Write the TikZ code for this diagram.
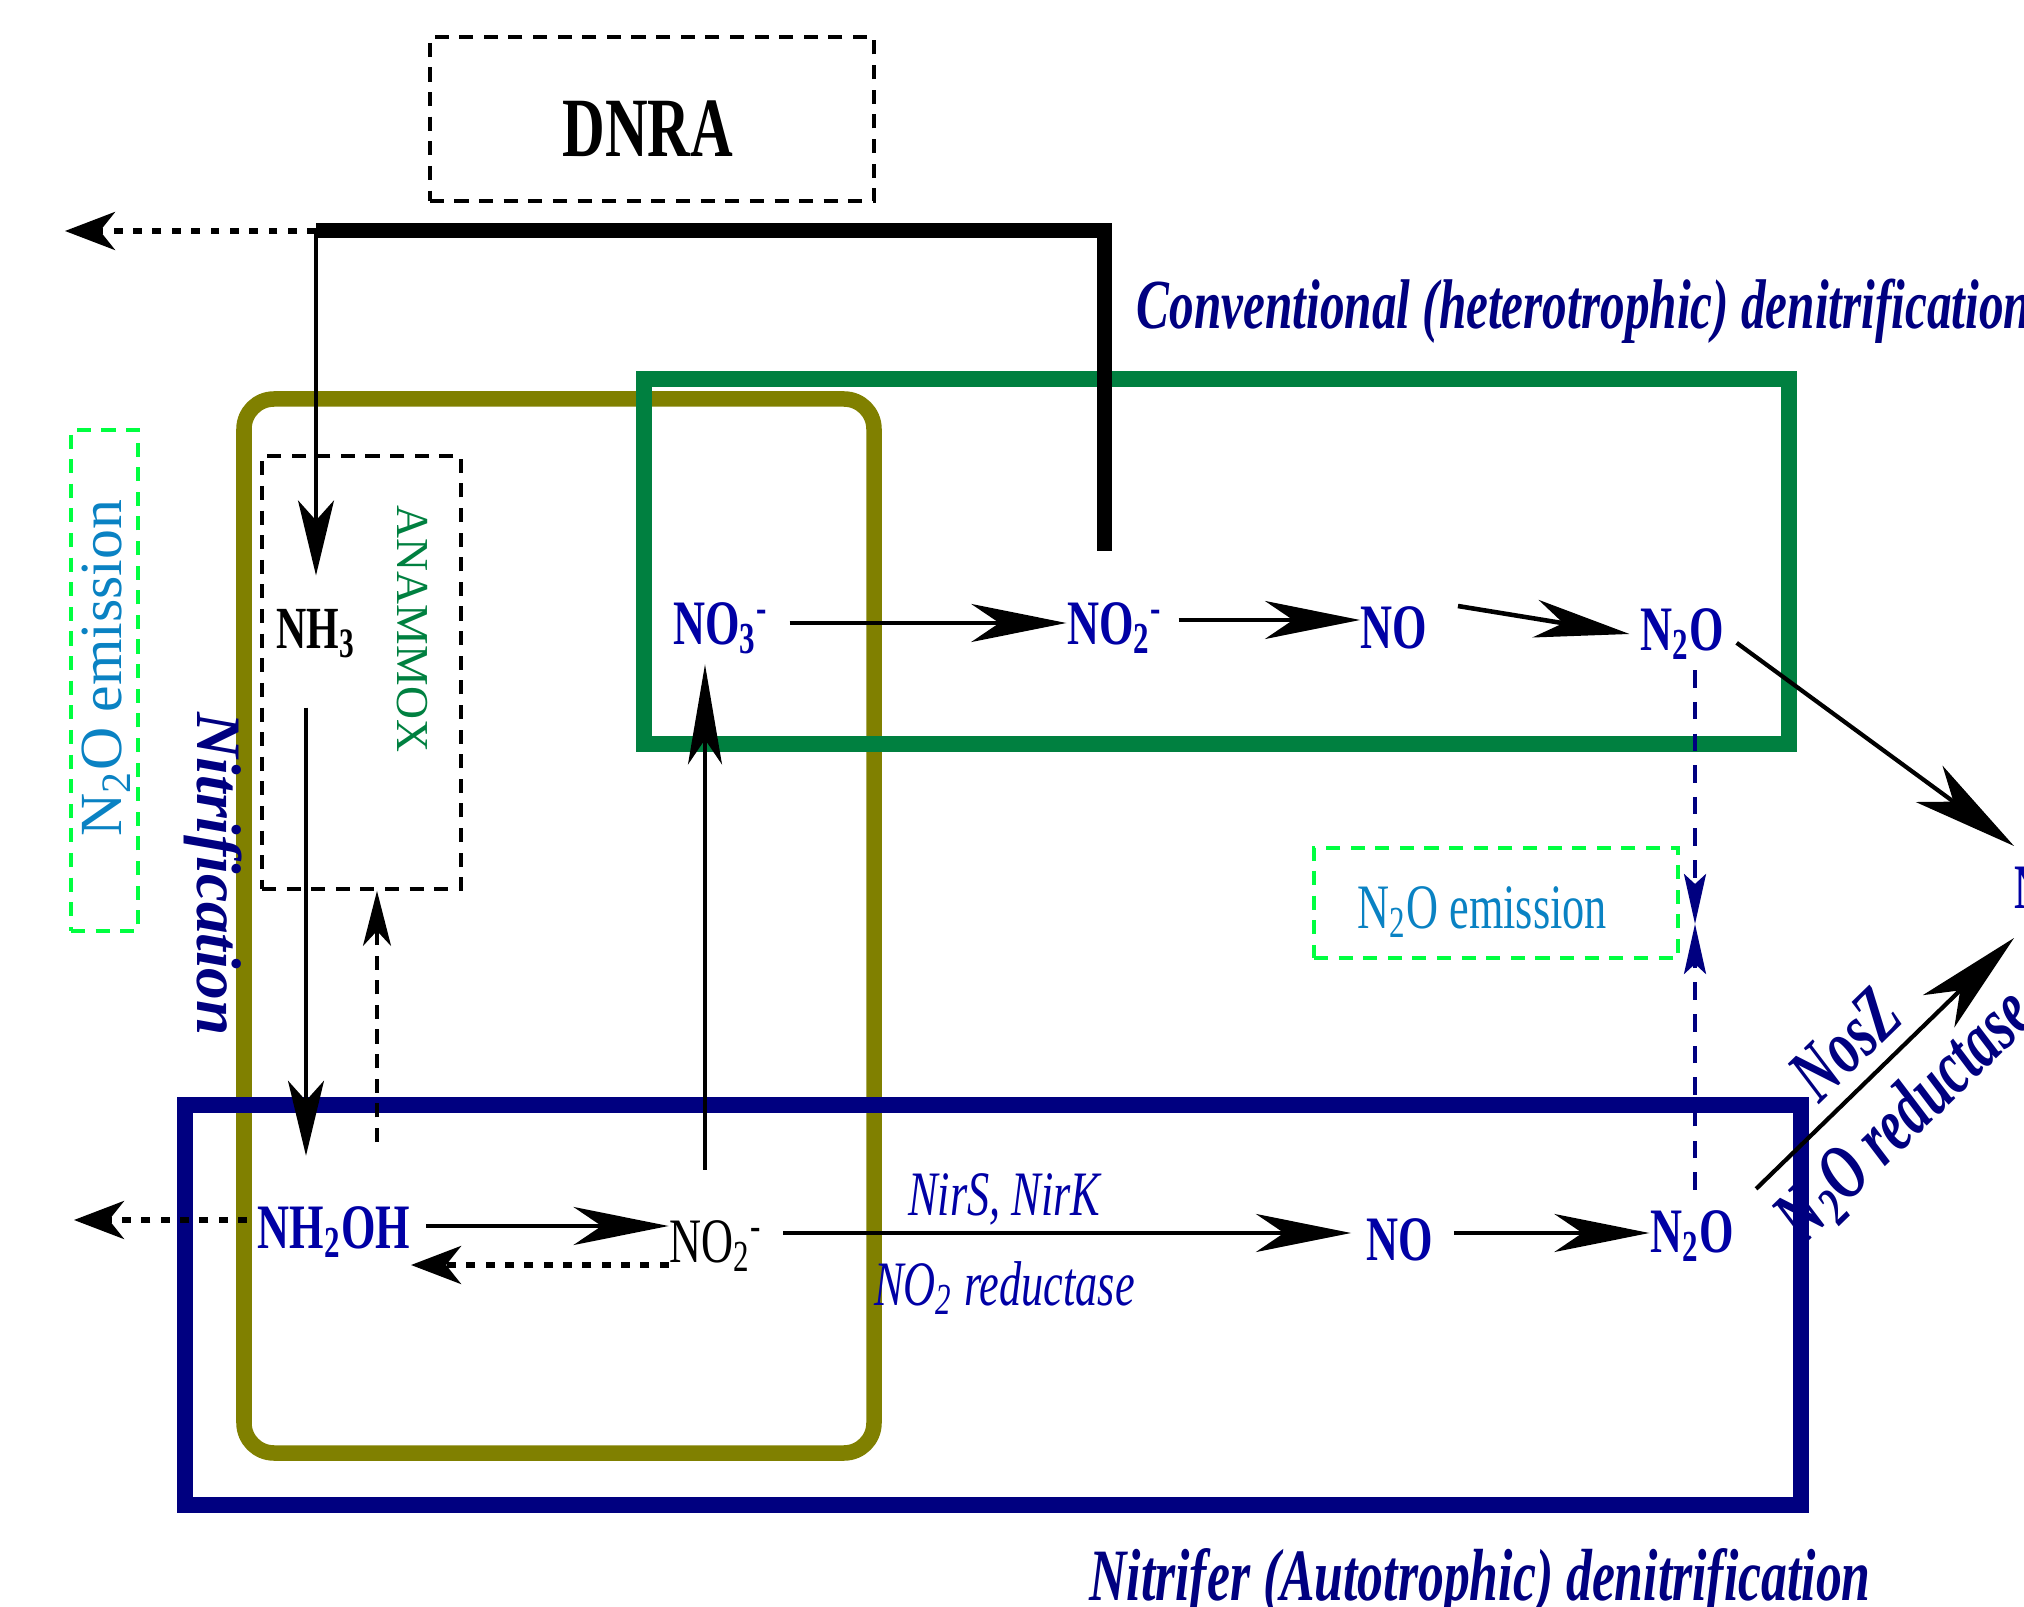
\documentclass[tikz,border=0pt]{standalone}
\usepackage{fontspec}
\setmainfont{Liberation Serif}
\newfontfamily\condfont{Liberation Serif}[FakeStretch=0.7]
\usepackage{xcolor}
\usetikzlibrary{arrows.meta, positioning}

\definecolor{boxnavy}{RGB}{0,0,128}
\definecolor{chemblue}{RGB}{0,0,165}
\definecolor{boxgreen}{RGB}{0,128,64}
\definecolor{boxolive}{RGB}{128,128,0}
\definecolor{emisblue}{RGB}{10,130,195}
\definecolor{emisgreen}{RGB}{0,255,64}

\begin{document}
\begin{tikzpicture}[
    x=0.01cm, y=-0.01cm,
    chem/.style={font=\fontsize{18}{20}\condfont\bfseries, text=chemblue, inner sep=0pt},
    plainchem/.style={font=\fontsize{18}{20}\condfont, inner sep=0pt},
    enzyme/.style={font=\fontsize{18}{20}\condfont\itshape, text=chemblue, inner sep=1pt},
    title/.style={font=\fontsize{20}{24}\condfont\bfseries\itshape, text=boxnavy, inner sep=0pt},
    nosz/.style={font=\fontsize{22}{24}\condfont\bfseries\itshape, text=boxnavy, inner sep=1pt},
    process/.style={line width=0.155cm},
    dashbox/.style={draw, line width=1pt, dash pattern=on 4pt off 3pt},
    emisbox/.style={draw=emisgreen, line width=1pt, dash pattern=on 4pt off 3pt},
    arr/.style={line width=1.3pt, -{Stealth[length=0.95cm, width=0.38cm, inset=0.28cm]}},
    bigarr/.style={line width=1.2pt, -{Stealth[length=1.05cm, width=0.45cm, inset=0.3cm]}},
    varr/.style={line width=0.9pt, -{Stealth[length=0.75cm, width=0.36cm, inset=0.2cm]}},
    dotarr/.style={line width=1.5pt, dash pattern=on 2.5pt off 3pt, -{Stealth[length=0.5cm, width=0.38cm, inset=0.15cm]}},
    dasharr/.style={line width=1pt, dash pattern=on 4pt off 3pt, -{Stealth[length=0.55cm, width=0.28cm, inset=0.15cm]}},
    emisarr/.style={draw=boxnavy, line width=1pt, dash pattern=on 5pt off 4pt, -{Stealth[length=0.5cm, width=0.22cm, inset=0.1cm]}},
]
\useasboundingbox (0,0) rectangle (2024,1607);

% process boxes
\draw[process, boxolive, rounded corners=0.3cm] (244,399) rectangle (874,1453);
\draw[process, boxgreen] (644,379) rectangle (1789,744);
\draw[process, boxnavy] (185,1105) rectangle (1801,1505);

% labels of boxes
\node[dashbox, minimum width=4.44cm, minimum height=1.64cm] (dnra) at (652,119) {};
\node[font=\fontsize{24}{26}\condfont\bfseries] (dnralabel) at (648,129) {DNRA};
\node[dashbox, minimum width=1.99cm, minimum height=4.33cm] (anammoxbox) at (361.5,672.5) {};
\node[rotate=-90, text=boxgreen, font=\fontsize{13}{15}\selectfont] (anammox) at (412,629) {ANAMMOX};
\node[rotate=-90, text=boxnavy, font=\fontsize{18}{20}\selectfont\bfseries\itshape] (nitrif) at (213,874) {Nitrification};
\node[emisbox, minimum width=0.67cm, minimum height=5.01cm] (emisleft) at (104.5,680.5) {};
\node[rotate=90, text=emisblue, font=\fontsize{17}{20}\selectfont] (emislefttext) at (106,668) {N\textsubscript{2}O emission};
\node[emisbox, minimum width=3.64cm, minimum height=1.1cm] (emisright) at (1496,903) {};
\node[text=emisblue, font=\fontsize{18}{20}\condfont] (emisrighttext) at (1482,912) {N\textsubscript{2}O emission};
\node[title, anchor=base west] (conv) at (1136,329) {Conventional (heterotrophic) denitrification};
\node[title, font=\fontsize{21}{24}\condfont\bfseries\itshape, anchor=base] (autot) at (1480,1600) {Nitrifer (Autotrophic) denitrification};

% species
\node[font=\fontsize{17}{20}\condfont\bfseries, inner sep=1pt] (nh3) at (316,634) {NH\textsubscript{3}};
\node[chem] (no3) at (721,628) {NO\textsubscript{3}\textsuperscript{-}};
\node[chem] (no2a) at (1115,628) {NO\textsubscript{2}\textsuperscript{-}};
\node[chem] (noa) at (1394,628) {NO};
\node[chem] (ntwooa) at (1682,634) {N\textsubscript{2}O};
\node[chem] (nh2oh) at (334,1232) {NH\textsubscript{2}OH};
\node[plainchem] (no2b) at (716,1246) {NO\textsubscript{2}\textsuperscript{-}};
\node[chem] (nob) at (1400,1240) {NO};
\node[chem] (ntwoob) at (1692,1236) {N\textsubscript{2}O};
\node[chem, anchor=west] (ntwo) at (2014,892) {N\textsubscript{2}};

% DNRA
\coordinate (split) at (316,231);
\coordinate (dnraend) at (1104,551);
\coordinate (dnraout) at (65,231);
\coordinate (nhout) at (74,1220);
\coordinate (anain) at (377,1142);
\coordinate (emismeet) at (1695,924);
\draw[line width=0.15cm] (split) -| (dnraend);
\draw[dotarr] (split) -- (dnraout);
\draw[varr, shorten >=0.3cm] (split) -- (nh3.north);

% nitrification
\draw[varr, shorten <=0.45cm, shorten >=0.5cm] ([xshift=-1mm]nh3.south) -- ([xshift=-1mm]nh3.south |- nh2oh.north);
\draw[dasharr] (anain) -- (anain |- anammoxbox.south);
\draw[dotarr, shorten <=0.1cm] ([yshift=1.2mm]nh2oh.west) -- ([yshift=1.2mm]nh2oh.west -| nhout);
\draw[arr, shorten <=0.15cm] ([yshift=0.6mm]nh2oh.east) -- ([yshift=0.6mm]nh2oh.east -| no2b.west);
\draw[dotarr] ([yshift=-1.9mm]no2b.west) -- ([yshift=-1.9mm]no2b.west -| nh2oh.east);
\draw[varr, line width=1pt, -{Stealth[length=1cm, width=0.34cm, inset=0.25cm]}, shorten <=0.5cm, shorten >=0.1cm] ([xshift=-1.1mm]no2b.north) -- ([xshift=-1.1mm]no2b.north |- no3.south);

% heterotrophic denitrification
\draw[arr, shorten <=0.2cm] ([yshift=0.5mm]no3.east) -- ([yshift=0.5mm]no3.east -| no2a.west);
\draw[arr, shorten <=0.15cm] ([yshift=0.8mm]no2a.east) -- ([yshift=0.8mm]no2a.east -| noa.west);
\draw[arr] ([xshift=3mm]noa.north east) -- ([xshift=-1mm]ntwooa.west);
\draw[bigarr, shorten <=0.15cm] (ntwooa.east) -- ([yshift=2mm]ntwo.north west);

% autotrophic denitrification
\draw[arr, shorten <=0.2cm, shorten >=0.15cm] ([yshift=1.3mm]no2b.east) -- node[enzyme, above=0.2mm, pos=0.4] {NirS, NirK} node[enzyme, below=2.3mm, pos=0.4] {NO\textsubscript{2} reductase} ([yshift=1.3mm]no2b.east -| nob.west);
\draw[arr, shorten <=0.2cm] ([yshift=0.7mm]nob.east) -- ([yshift=0.7mm]nob.east -| ntwoob.west);
\draw[bigarr, shorten <=0.3cm] (ntwoob.north east) -- node[nosz, sloped, above=1mm, pos=0.5] {NosZ} node[nosz, sloped, below=1.5mm, pos=0.48] {N\textsubscript{2}O reductase} ([yshift=-2mm]ntwo.south west);

% emission
\draw[emisarr] ([yshift=-1mm]emismeet |- ntwooa.south) -- (emismeet);
\draw[emisarr] ([yshift=2mm]emismeet |- ntwoob.north) -- (emismeet);

\end{tikzpicture}
\end{document}
